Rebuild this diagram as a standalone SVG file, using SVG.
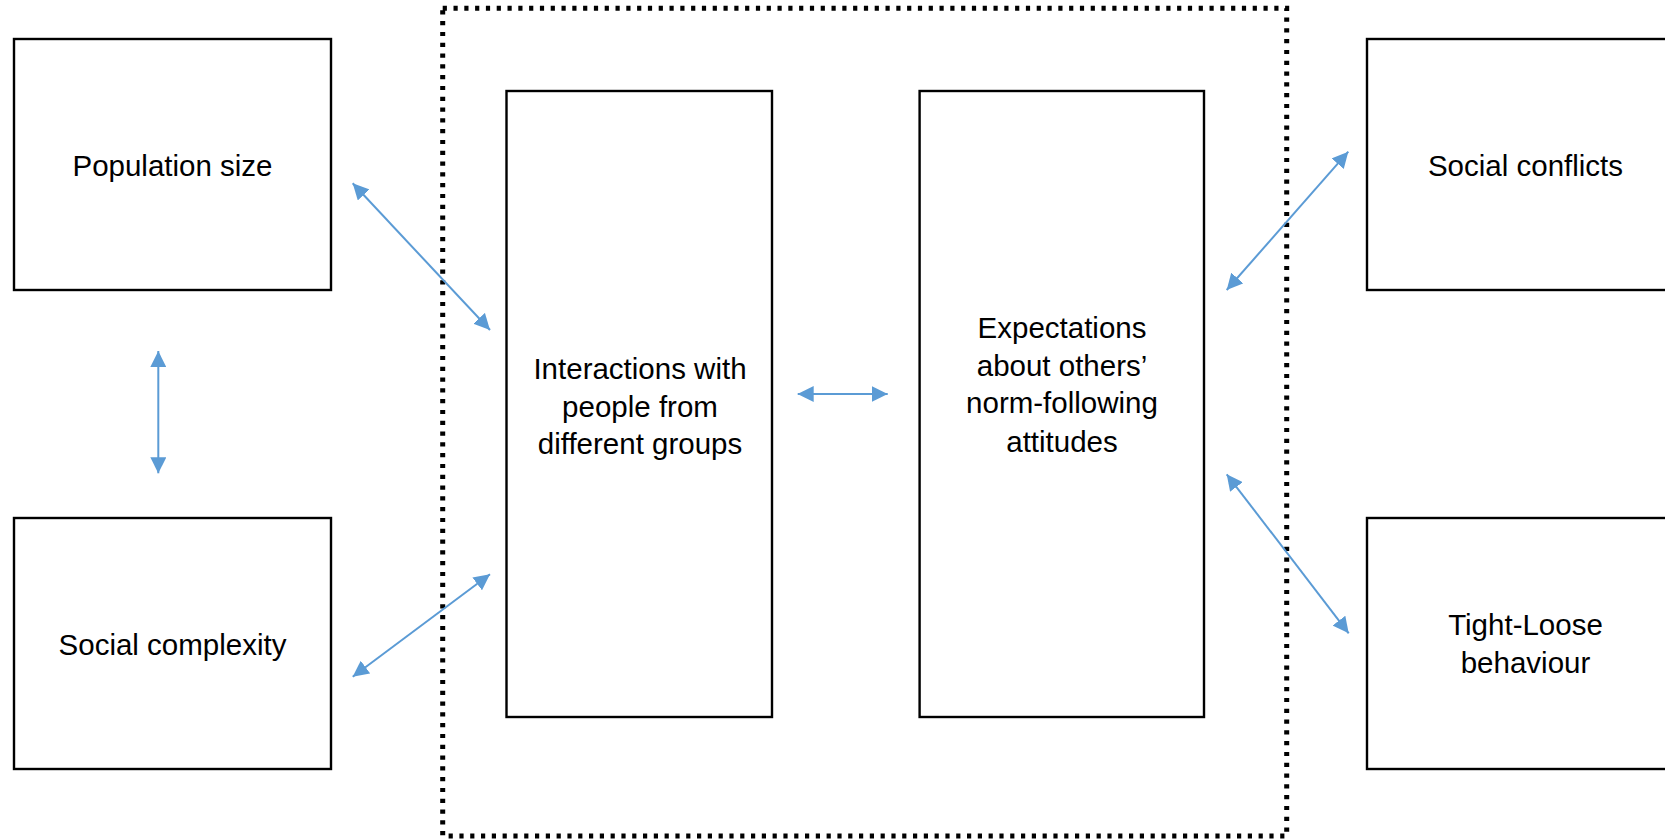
<svg xmlns="http://www.w3.org/2000/svg" width="1665" height="839" viewBox="0 0 1665 839">
  <style>
    .box { fill: #ffffff; stroke: #000000; stroke-width: 2.4; }
    .frame { fill: none; stroke: #000000; stroke-width: 5; stroke-dasharray: 4.2 6.6; }
    .lbl { font-family: "Liberation Sans", Arial, sans-serif; font-size: 29.5px; fill: #000000; text-anchor: middle; }
    .conn { stroke: #5B9BD5; stroke-width: 2; fill: none; marker-start: url(#ah); marker-end: url(#ah); }
  </style>
  <defs>
    <marker id="ah" viewBox="0 0 16 16" markerWidth="16" markerHeight="16" markerUnits="userSpaceOnUse" refX="16" refY="8" orient="auto-start-reverse">
      <path d="M0,0 L16,8 L0,16 z" fill="#5B9BD5"/>
    </marker>
  </defs>
  <rect width="1665" height="839" fill="#ffffff"/>

  <g id="frame">
    <rect class="frame" x="442.7" y="8.3" width="844" height="827.7"/>
  </g>

  <g id="node-population">
    <rect class="box" x="14" y="39" width="317" height="251"/>
    <text class="lbl" x="172.5" y="176">Population size</text>
  </g>

  <g id="node-complexity">
    <rect class="box" x="14" y="518" width="317" height="251"/>
    <text class="lbl" x="172.5" y="655">Social complexity</text>
  </g>

  <g id="node-interactions">
    <rect class="box" x="506.5" y="91" width="265.5" height="626"/>
    <text class="lbl" x="640" y="379">Interactions with</text>
    <text class="lbl" x="640" y="416.5">people from</text>
    <text class="lbl" x="640" y="454">different groups</text>
  </g>

  <g id="node-expectations">
    <rect class="box" x="919.6" y="91" width="284.4" height="626"/>
    <text class="lbl" x="1062" y="338">Expectations</text>
    <text class="lbl" x="1062" y="376">about others’</text>
    <text class="lbl" x="1062" y="413">norm-following</text>
    <text class="lbl" x="1062" y="452">attitudes</text>
  </g>

  <g id="node-conflicts">
    <rect class="box" x="1367" y="39" width="317" height="251"/>
    <text class="lbl" x="1525.5" y="176">Social conflicts</text>
  </g>

  <g id="node-tightloose">
    <rect class="box" x="1367" y="518" width="317" height="251"/>
    <text class="lbl" x="1525.5" y="635">Tight-Loose</text>
    <text class="lbl" x="1525.5" y="673">behaviour</text>
  </g>

  <g id="connectors">
    <line class="conn" x1="352.7" y1="183.3" x2="490" y2="330"/>
    <line class="conn" x1="352.7" y1="676.7" x2="490" y2="574.3"/>
    <line class="conn" x1="158.3" y1="351" x2="158.3" y2="473.3"/>
    <line class="conn" x1="797.7" y1="394" x2="887.7" y2="394"/>
    <line class="conn" x1="1348.3" y1="151.7" x2="1226.7" y2="290"/>
    <line class="conn" x1="1226.7" y1="474.3" x2="1348.7" y2="633.3"/>
  </g>
</svg>
